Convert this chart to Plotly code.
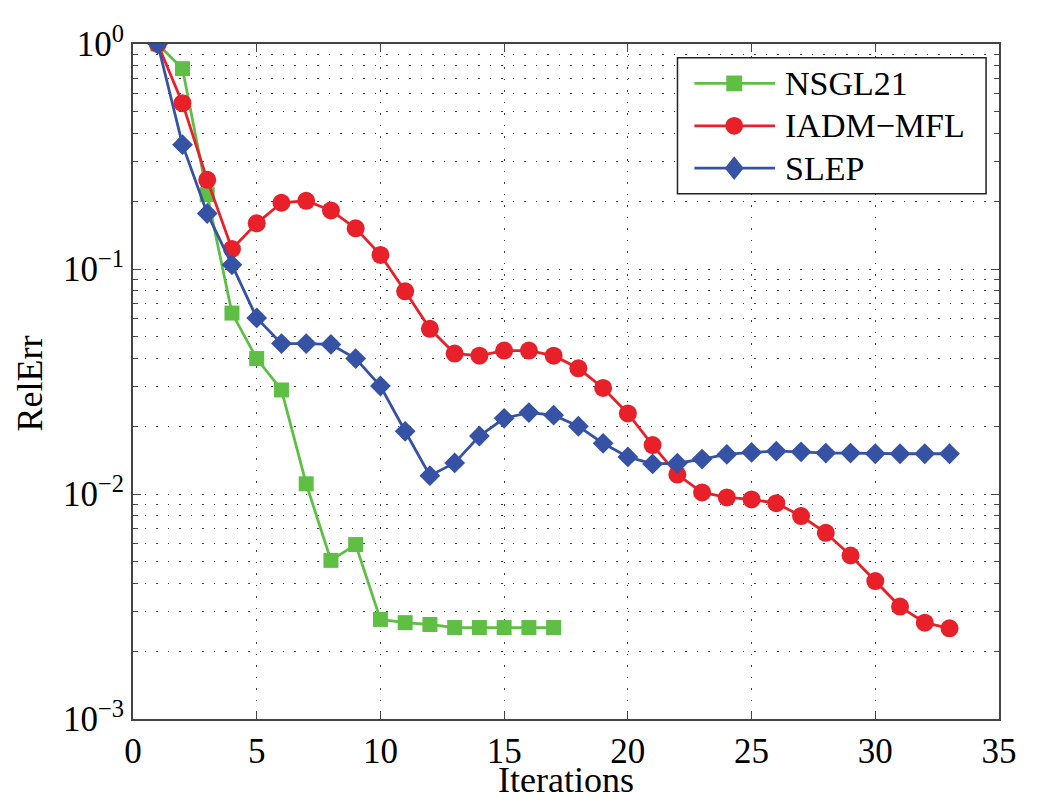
import plotly.graph_objects as go

iters_nsgl = list(range(1, 18))
nsgl21 = [1.0, 0.777, 0.214, 0.0637, 0.040, 0.029, 0.0111, 0.00507, 0.00596,
          0.00277, 0.00268, 0.00263, 0.00255, 0.00255, 0.00255, 0.00255, 0.00255]

iters_iadm = list(range(1, 34))
iadm_mfl = [1.0, 0.546, 0.249, 0.1227, 0.1596, 0.197, 0.201, 0.182, 0.1517, 0.1155,
            0.0796, 0.0542, 0.0421, 0.0412, 0.0434, 0.0434, 0.0412, 0.0362, 0.0296,
            0.0228, 0.0165, 0.0122, 0.01016, 0.00966, 0.00946, 0.0091, 0.00798,
            0.00672, 0.00533, 0.0041, 0.00316, 0.00268, 0.00253]

iters_slep = list(range(1, 34))
slep = [1.0, 0.357, 0.1765, 0.1044, 0.0606, 0.0466, 0.0466, 0.0462, 0.040, 0.0302,
        0.019, 0.01206, 0.01375, 0.0181, 0.0217, 0.0230, 0.0224, 0.020, 0.0168,
        0.01462, 0.0136, 0.0137, 0.0143, 0.0150, 0.0153, 0.0155, 0.0154, 0.0152,
        0.0152, 0.0151, 0.0151, 0.0151, 0.0151]

series_names = ["NSGL21", "IADM\u2212MFL", "SLEP"]

x_ticks = [0, 5, 10, 15, 20, 25, 30, 35]
y_ticks = [1, 0.1, 0.01, 0.001]
y_ticktext = ["10<sup>0</sup>", "10<sup>\u22121</sup>", "10<sup>\u22122</sup>", "10<sup>\u22123</sup>"]
y_minor = [m * 10 ** e for e in (-3, -2, -1) for m in range(2, 10)]

GREEN = "#5fbf45"
RED = "#e8202a"
BLUE = "#3652a5"
COLORS = [GREEN, RED, BLUE]
FONT = "Liberation Serif, Times New Roman, serif"
TICKFONT = dict(family=FONT, size=35, color="black")
TITLEFONT = dict(family=FONT, size=36, color="black")
LEGFONT = dict(family=FONT, size=34, color="black")
DOTS = "1.5px,10px"
GRIDC = "#444444"
AXC = "#444444"
LW = 2.8

# page body has an 8px margin; figure is sized to fit the 1037x803 window
OFF = 8
FIG_W, FIG_H = 1037 - 2 * OFF, 803 - 2 * OFF
# plot area in screen pixels
PL, PR, PT, PB = 133, 1003, 34, 719
PW, PH = PR - PL, PB - PT


def px_x(px):
    return (px - PL) / PW


def px_y(py):
    return (PB - py) / PH


fig = go.Figure()
fig.add_trace(go.Scatter(x=iters_nsgl, y=nsgl21, name=series_names[0], mode="lines+markers",
                         line=dict(color=GREEN, width=LW),
                         marker=dict(symbol="square", size=15, color=GREEN)))
fig.add_trace(go.Scatter(x=iters_iadm, y=iadm_mfl, name=series_names[1], mode="lines+markers",
                         line=dict(color=RED, width=LW),
                         marker=dict(symbol="circle", size=18, color=RED)))
fig.add_trace(go.Scatter(x=iters_slep, y=slep, name=series_names[2], mode="lines+markers",
                         line=dict(color=BLUE, width=LW),
                         marker=dict(symbol="diamond", size=16, color=BLUE)))

# custom MATLAB-style legend
shapes = [dict(type="rect", xref="paper", yref="paper", layer="above",
               x0=px_x(680), x1=px_x(990), y0=px_y(186), y1=px_y(48),
               fillcolor="white", line=dict(color="#222222", width=1.5))]
annotations = []
entry_y = [74, 117, 160]
lx0, lx1, mx, tx = 697, 778, 737, 786
for i, (name, col) in enumerate(zip(series_names, COLORS)):
    yy = entry_y[i]
    shapes.append(dict(type="line", xref="paper", yref="paper", layer="above",
                       x0=px_x(lx0), x1=px_x(lx1), y0=px_y(yy), y1=px_y(yy),
                       line=dict(color=col, width=LW)))
    if i == 0:
        h = 8
        shapes.append(dict(type="rect", xref="paper", yref="paper", layer="above",
                           x0=px_x(mx - h), x1=px_x(mx + h), y0=px_y(yy + h), y1=px_y(yy - h),
                           fillcolor=col, line=dict(width=0)))
    elif i == 1:
        h = 9
        shapes.append(dict(type="circle", xref="paper", yref="paper", layer="above",
                           x0=px_x(mx - h), x1=px_x(mx + h), y0=px_y(yy + h), y1=px_y(yy - h),
                           fillcolor=col, line=dict(width=0)))
    else:
        hw, hh = 9.5, 12
        path = (f"M {px_x(mx - hw)},{px_y(yy)} L {px_x(mx)},{px_y(yy - hh)} "
                f"L {px_x(mx + hw)},{px_y(yy)} L {px_x(mx)},{px_y(yy + hh)} Z")
        shapes.append(dict(type="path", xref="paper", yref="paper", layer="above",
                           path=path, fillcolor=col, line=dict(width=0)))
    annotations.append(dict(text=name, xref="paper", yref="paper", x=px_x(tx), y=px_y(yy),
                            xanchor="left", yanchor="middle", showarrow=False, font=LEGFONT))

annotations.append(dict(text="Iterations", xref="paper", yref="paper", x=px_x(568),
                        y=px_y(781), xanchor="center", yanchor="middle", showarrow=False,
                        font=TITLEFONT))
annotations.append(dict(text="RelErr", xref="paper", yref="paper", x=px_x(29),
                        y=px_y(378), xanchor="center", yanchor="middle", showarrow=False,
                        textangle=-90, font=TITLEFONT))

fig.update_layout(
    width=FIG_W, height=FIG_H,
    margin=dict(l=PL - OFF, r=FIG_W - (PR - OFF), t=PT - OFF, b=FIG_H - (PB - OFF)),
    paper_bgcolor="white", plot_bgcolor="white",
    font=dict(family=FONT, size=35, color="black"),
    showlegend=False,
    xaxis=dict(range=[0, 35], tickvals=x_ticks, ticks="inside", ticklen=8,
               tickfont=TICKFONT, tickcolor=AXC, showline=True, linecolor=AXC,
               linewidth=2, mirror="ticks", showgrid=True, gridcolor=GRIDC,
               griddash=DOTS, gridwidth=1.2, zeroline=False),
    yaxis=dict(type="log", range=[-3, 0], tickvals=y_ticks, ticktext=y_ticktext,
               tickfont=TICKFONT, ticks="inside", ticklen=8, tickcolor=AXC,
               showline=True, linecolor=AXC, linewidth=2, mirror="ticks",
               showgrid=True, gridcolor=GRIDC, griddash=DOTS, gridwidth=1.2,
               zeroline=False,
               minor=dict(tickvals=y_minor, ticks="inside", ticklen=5,
                          tickcolor=AXC, showgrid=True, gridcolor=GRIDC,
                          griddash=DOTS, gridwidth=1.2)),
    shapes=shapes,
    annotations=annotations,
)

fig.write_html("out.html")
